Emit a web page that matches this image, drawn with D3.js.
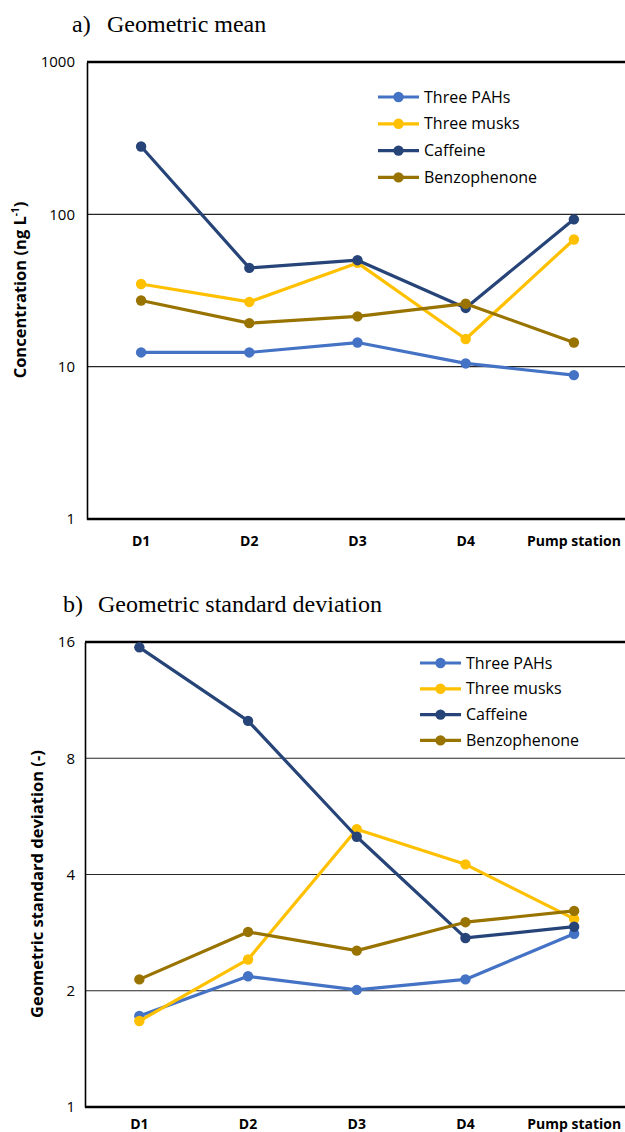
<!DOCTYPE html>
<html>
<head>
<meta charset="utf-8">
<script src="https://cdn.jsdelivr.net/npm/d3@7"></script>
<style>
  html, body { margin: 0; padding: 0; background: #fff; }
  svg { display: block; }
</style>
</head>
<body>
<svg id="chart" width="625" height="1132"></svg>
<script>
// Sampling sites along the sewer line
const categories = ["D1", "D2", "D3", "D4", "Pump station"];

// Series shared by both panels
const seriesNames = ["Three PAHs", "Three musks", "Caffeine", "Benzophenone"];
const seriesColors = ["#4472C4", "#FFC000", "#264478", "#997300"];

// a) Geometric mean concentration (ng/L)
const meanPAHs = [12.4, 12.4, 14.4, 10.5, 8.8];
const meanMusks = [34.9, 26.6, 48.0, 15.2, 68.4];
const meanCaffeine = [279, 44.5, 50.0, 24.3, 92.7];
const meanBenzophenone = [27.2, 19.3, 21.4, 25.9, 14.4];
const meanTicks = [1, 10, 100, 1000];

// b) Geometric standard deviation (-)
const gsdPAHs = [1.72, 2.18, 2.01, 2.14, 2.81];
const gsdMusks = [1.67, 2.41, 5.24, 4.25, 3.07];
const gsdCaffeine = [15.5, 10.0, 5.01, 2.74, 2.93];
const gsdBenzophenone = [2.14, 2.84, 2.54, 3.01, 3.22];
const gsdTicks = [1, 2, 4, 8, 16];

const svg = d3.select("#chart");
const sansFont = "'Open Sans', 'Noto Sans', sans-serif";
const serifFont = "'Liberation Serif', 'DejaVu Serif', serif";

function drawPanel(cfg) {
  const g = svg.append("g");

  // panel heading
  const title = g.append("text")
    .attr("y", cfg.titleY)
    .attr("font-family", serifFont)
    .attr("font-size", 24)
    .attr("fill", "#000");
  title.append("tspan").attr("x", cfg.titleX).text(cfg.titleTag);
  title.append("tspan").attr("x", cfg.titleX + 35).text(cfg.titleText);

  const x = d3.scaleBand()
    .domain(categories)
    .range([cfg.left, cfg.right])
    .paddingInner(0).paddingOuter(0);

  const y = d3.scaleLog()
    .base(cfg.base)
    .domain([cfg.ticks[0], cfg.ticks[cfg.ticks.length - 1]])
    .range([cfg.bottom, cfg.top]);

  // horizontal gridlines
  g.append("g")
    .selectAll("line")
    .data(cfg.ticks.slice(1, -1))
    .join("line")
    .attr("x1", cfg.left).attr("x2", 625)
    .attr("y1", d => y(d)).attr("y2", d => y(d))
    .attr("stroke", "#262626")
    .attr("stroke-width", 1.2);

  // top border of the plot area
  g.append("line")
    .attr("x1", cfg.left).attr("x2", 625)
    .attr("y1", y(cfg.ticks[cfg.ticks.length - 1]))
    .attr("y2", y(cfg.ticks[cfg.ticks.length - 1]))
    .attr("stroke", "#000").attr("stroke-width", 2.4);

  // y axis with tick labels
  const yAxis = d3.axisLeft(y)
    .tickValues(cfg.ticks)
    .tickFormat(d3.format("d"))
    .tickSize(0)
    .tickPadding(cfg.tickPad);
  const ya = g.append("g")
    .attr("transform", `translate(${cfg.left},0)`)
    .call(yAxis);
  ya.select(".domain").attr("stroke", "#000").attr("stroke-width", 1.6);
  ya.selectAll("text")
    .attr("font-family", sansFont)
    .attr("font-size", 15)
    .attr("fill", "#000");

  // x axis line and category labels
  const xAxis = d3.axisBottom(x).tickSize(0).tickPadding(cfg.xLabelPad);
  const xa = g.append("g")
    .attr("transform", `translate(0,${cfg.bottom})`)
    .call(xAxis);
  xa.select(".domain")
    .attr("d", `M${cfg.left},0H625`)
    .attr("stroke", "#000").attr("stroke-width", 2.4);
  xa.selectAll("text")
    .attr("font-family", sansFont)
    .attr("font-weight", "bold")
    .attr("font-size", 14)
    .attr("fill", "#000");

  // y axis title
  const yt = g.append("text")
    .attr("transform", `translate(${cfg.yTitleX},${cfg.yTitleY}) rotate(-90)`)
    .attr("text-anchor", "middle")
    .attr("font-family", sansFont)
    .attr("font-weight", "bold")
    .attr("font-size", 16.5)
    .attr("fill", "#000");
  cfg.yTitle(yt);

  // series lines and markers
  const cx = d => x(d) + x.bandwidth() / 2;
  const line = d3.line()
    .x((d, i) => cx(categories[i]))
    .y(d => y(d));

  cfg.series.forEach((values, s) => {
    const sg = g.append("g");
    sg.append("path")
      .datum(values)
      .attr("d", line)
      .attr("fill", "none")
      .attr("stroke", seriesColors[s])
      .attr("stroke-width", 3.2)
      .attr("stroke-linejoin", "round");
    sg.selectAll("circle")
      .data(values)
      .join("circle")
      .attr("cx", (d, i) => cx(categories[i]))
      .attr("cy", d => y(d))
      .attr("r", 5.2)
      .attr("fill", seriesColors[s]);
  });

  // legend
  const lg = g.append("g");
  seriesNames.forEach((name, i) => {
    const ly = cfg.legendY + i * cfg.legendStep;
    lg.append("line")
      .attr("x1", cfg.legendX).attr("x2", cfg.legendX + 41)
      .attr("y1", ly).attr("y2", ly)
      .attr("stroke", seriesColors[i]).attr("stroke-width", 3.2);
    lg.append("circle")
      .attr("cx", cfg.legendX + 20.5).attr("cy", ly).attr("r", 5.2)
      .attr("fill", seriesColors[i]);
    lg.append("text")
      .attr("x", cfg.legendX + 46).attr("y", ly)
      .attr("dy", "0.35em")
      .attr("font-family", sansFont)
      .attr("font-size", 16)
      .attr("fill", "#000")
      .text(name);
  });
}

drawPanel({
  titleTag: "a)", titleText: "Geometric mean",
  titleX: 72, titleY: 32,
  left: 87, right: 628, top: 62, bottom: 519,
  base: 10, ticks: meanTicks, tickPad: 12, xLabelPad: 17,
  yTitleX: 26, yTitleY: 290,
  yTitle: t => {
    t.append("tspan").text("Concentration (ng L");
    t.append("tspan").attr("baseline-shift", "super").attr("font-size", 10).text("-1");
    t.append("tspan").text(")");
  },
  series: [meanPAHs, meanMusks, meanCaffeine, meanBenzophenone],
  legendX: 378, legendY: 97, legendStep: 26.8
});

drawPanel({
  titleTag: "b)", titleText: "Geometric standard deviation",
  titleX: 63, titleY: 612,
  left: 85, right: 628.5, top: 642, bottom: 1107,
  base: 2, ticks: gsdTicks, tickPad: 10, xLabelPad: 12,
  yTitleX: 43, yTitleY: 884,
  yTitle: t => t.text("Geometric standard deviation (-)"),
  series: [gsdPAHs, gsdMusks, gsdCaffeine, gsdBenzophenone],
  legendX: 420, legendY: 663, legendStep: 25.8
});
</script>
</body>
</html>
